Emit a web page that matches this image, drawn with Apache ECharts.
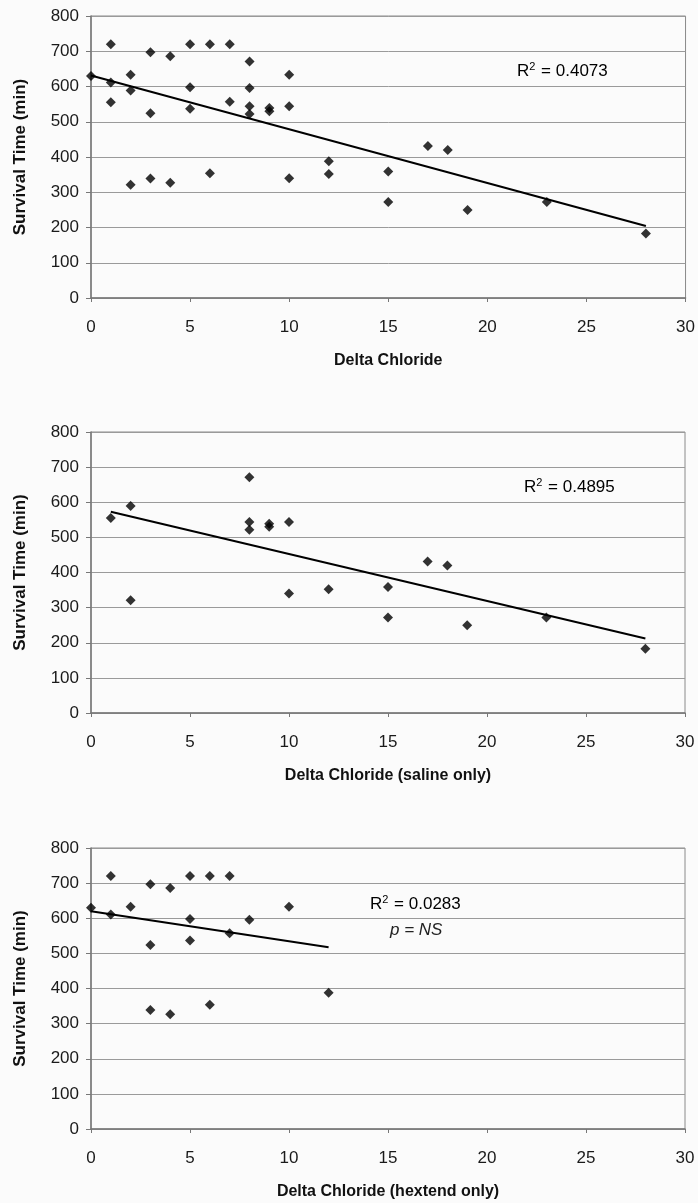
<!DOCTYPE html>
<html>
<head>
<meta charset="utf-8">
<script src="https://cdn.jsdelivr.net/npm/echarts@6/dist/echarts.min.js"></script>
<style>
html, body { margin: 0; padding: 0; background: #fbfbfb; }
#chart { width: 698px; height: 1203px; }
</style>
</head>
<body>
<div id="chart"></div>
<script>
// hextend 组
var hextendX = [0, 1, 1, 2, 3, 3, 3, 4, 4, 5, 5, 5, 6, 6, 7, 7, 8, 10, 12];
var hextendY = [630, 720, 611, 633, 697, 524, 339, 686, 327, 720, 598, 537, 720, 354, 720, 557, 596, 633, 388];
// saline 组
var salineX = [1, 2, 2, 8, 8, 8, 9, 9, 10, 10, 12, 15, 15, 17, 18, 19, 23, 28];
var salineY = [555, 589, 321, 671, 544, 522, 539, 530, 544, 340, 352, 359, 272, 431, 420, 250, 272, 183];

var xTitles = ['Delta Chloride', 'Delta Chloride (saline only)', 'Delta Chloride (hextend only)'];
var yTitle = 'Survival Time (min)';
var rSquared = ['0.4073', '0.4895', '0.0283'];

function pairs(xs, ys) {
    var out = [];
    for (var i = 0; i < xs.length; i++) out.push([xs[i], ys[i]]);
    return out;
}

// 最小二乘趋势线
function trend(xs, ys) {
    var n = xs.length, sx = 0, sy = 0, sxy = 0, sxx = 0;
    for (var i = 0; i < n; i++) {
        sx += xs[i]; sy += ys[i]; sxy += xs[i] * ys[i]; sxx += xs[i] * xs[i];
    }
    var b = (n * sxy - sx * sy) / (n * sxx - sx * sx);
    var a = (sy - b * sx) / n;
    var lo = Math.min.apply(null, xs), hi = Math.max.apply(null, xs);
    return [[lo, a + b * lo], [hi, a + b * hi]];
}

var sets = [
    { x: hextendX.concat(salineX), y: hextendY.concat(salineY) },
    { x: salineX, y: salineY },
    { x: hextendX, y: hextendY }
];

var font = 'Liberation Sans, Arial, sans-serif';
var grids = [
    { left: 91, right: 11, top: 16, height: 282 },
    { left: 91, right: 13, top: 432, height: 281 },
    { left: 91, right: 13, top: 848, height: 281 }
];

var xAxes = [], yAxes = [], series = [];
for (var k = 0; k < 3; k++) {
    grids[k].show = true;
    grids[k].borderColor = '#8a8a8a';
    grids[k].borderWidth = 1;
    grids[k].backgroundColor = 'transparent';
    xAxes.push({
        gridIndex: k, type: 'value', min: 0, max: 30, interval: 5,
        name: xTitles[k], nameLocation: 'middle', nameGap: 55,
        nameTextStyle: { fontFamily: font, fontWeight: 'bold', fontSize: 16, color: '#111' },
        axisLine: { show: true, lineStyle: { color: '#777', width: 1.5 } },
        axisTick: { show: true, length: 4, lineStyle: { color: '#777' } },
        axisLabel: { margin: 21, fontFamily: font, fontSize: 17, color: '#1a1a1a' },
        splitLine: { show: false }
    });
    yAxes.push({
        gridIndex: k, type: 'value', min: 0, max: 800, interval: 100,
        name: yTitle, nameLocation: 'middle', nameGap: 62, nameRotate: 90,
        nameTextStyle: { fontFamily: font, fontWeight: 'bold', fontSize: 17, color: '#111' },
        axisLine: { show: true, lineStyle: { color: '#777', width: 1.5 } },
        axisTick: { show: true, length: 5, lineStyle: { color: '#777' } },
        axisLabel: { margin: 12, fontFamily: font, fontSize: 17, color: '#1a1a1a' },
        splitLine: { show: true, lineStyle: { color: '#9a9a9a', width: 1 } }
    });
    series.push({
        type: 'scatter', xAxisIndex: k, yAxisIndex: k,
        symbol: 'diamond', symbolSize: 10,
        itemStyle: { color: '#000' },
        data: pairs(sets[k].x, sets[k].y)
    });
    series.push({
        type: 'line', xAxisIndex: k, yAxisIndex: k,
        symbol: 'none', lineStyle: { color: '#000', width: 2 },
        data: trend(sets[k].x, sets[k].y), z: 1
    });
}

function r2Text(x, y, val) {
    return {
        type: 'text', x: x, y: y,
        style: {
            text: '{a|R}{s|2}{a| = ' + val + '}',
            verticalAlign: 'middle',
            rich: {
                a: { fontFamily: font, fontSize: 17, color: '#222' },
                s: { fontFamily: font, fontSize: 11, color: '#222', padding: [0, 1, 8, 0] }
            }
        }
    };
}

var myChart = echarts.init(document.getElementById('chart'));
var option = {
    backgroundColor: '#fbfbfb',
    animation: false,
    grid: grids,
    xAxis: xAxes,
    yAxis: yAxes,
    series: series,
    graphic: [
        r2Text(517, 71, rSquared[0]),
        r2Text(524, 487, rSquared[1]),
        r2Text(370, 904, rSquared[2]),
        {
            type: 'text', x: 390, y: 930,
            style: {
                text: 'p = NS', verticalAlign: 'middle',
                font: 'italic 17px ' + font, fill: '#222'
            }
        }
    ]
};
myChart.setOption(option);
</script>
</body>
</html>
